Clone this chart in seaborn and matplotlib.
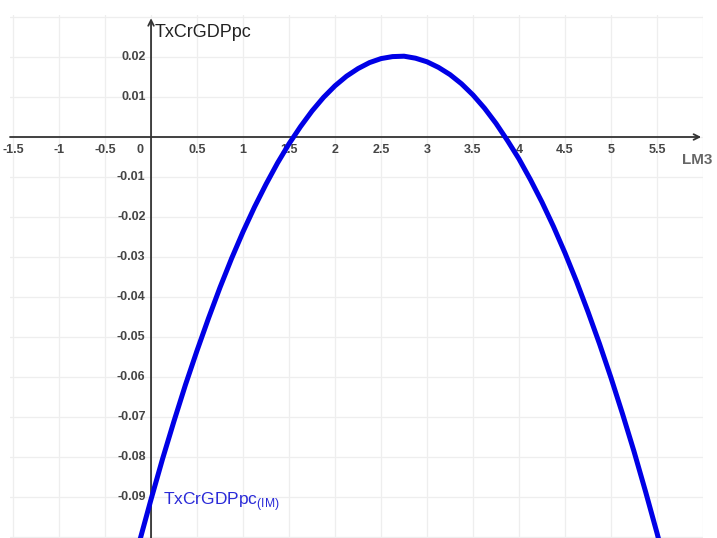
import numpy as np
import pandas as pd
import matplotlib
matplotlib.use("Agg")
import matplotlib.pyplot as plt
import seaborn as sns

# points (LM3 -> TxCrGDPpc)
lm3 = [-0.25, -0.125, 0.0, 0.125, 0.25, 0.375, 0.5, 0.625, 0.75, 0.875,
       1.0, 1.125, 1.25, 1.375, 1.5, 1.625, 1.75, 1.875, 2.0, 2.125,
       2.25, 2.375, 2.5, 2.625, 2.75, 2.875, 3.0, 3.125, 3.25, 3.375,
       3.5, 3.625, 3.75, 3.875, 4.0, 4.125, 4.25, 4.375, 4.5, 4.625,
       4.75, 4.875, 5.0, 5.125, 5.25, 5.375, 5.5, 5.625, 5.75]
txcr = [-0.1121, -0.1011, -0.0906, -0.0805, -0.0710, -0.0619, -0.0534, -0.0453,
        -0.0376, -0.0304, -0.0237, -0.0175, -0.0118, -0.0065, -0.0017, 0.0026,
        0.0065, 0.0099, 0.0128, 0.0152, 0.0171, 0.0186, 0.0196, 0.0201, 0.0202,
        0.0197, 0.0188, 0.0174, 0.0156, 0.0133, 0.0105, 0.0072, 0.0034, -0.0009,
        -0.0055, -0.0107, -0.0163, -0.0224, -0.0290, -0.0361, -0.0437, -0.0517,
        -0.0602, -0.0692, -0.0786, -0.0886, -0.0990, -0.1099, -0.1212]

x_ticks = [-1.5, -1, -0.5, 0.5, 1, 1.5, 2, 2.5, 3, 3.5, 4, 4.5, 5, 5.5]
y_ticks = [0.02, 0.01, -0.01, -0.02, -0.03, -0.04, -0.05, -0.06, -0.07, -0.08, -0.09]

df = pd.DataFrame({"LM3": lm3, "TxCrGDPpc": txcr})

sns.set_style("white")
plt.rcParams['font.family'] = ['Liberation Sans', 'DejaVu Sans']
plt.rcParams['axes.unicode_minus'] = False

fig = plt.figure(figsize=(7.17, 5.38), dpi=100)
ax = fig.add_axes([10 / 717, 0, 693 / 717, 523 / 538])

xmin, xmax = -1.533, 6.0
ymin, ymax = -0.10025, 0.0305
ax.set_xlim(xmin, xmax)
ax.set_ylim(ymin, ymax)

# light grid
for gx in np.arange(-1.5, 6.01, 0.5):
    ax.axvline(gx, color="#eeeeee", lw=0.9, zorder=0)
for gy in np.arange(-0.10, 0.031, 0.01):
    ax.axhline(gy, color="#eeeeee", lw=0.9, zorder=0)

for s in ax.spines.values():
    s.set_visible(False)
ax.set_xticks([])
ax.set_yticks([])

# axes with arrows
ax.annotate("", xy=(xmax - 0.02, 0), xytext=(xmin, 0),
            arrowprops=dict(arrowstyle="->", color="#333333", lw=1.3, shrinkA=0, shrinkB=0))
ax.annotate("", xy=(0, ymax - 0.0008), xytext=(0, ymin),
            arrowprops=dict(arrowstyle="->", color="#333333", lw=1.3, shrinkA=0, shrinkB=0))

sns.lineplot(data=df, x="LM3", y="TxCrGDPpc", ax=ax, color="#0000e6", lw=3.6,
             zorder=5, solid_joinstyle="round", solid_capstyle="round")
ax.set_xlabel("")
ax.set_ylabel("")

def fmt(v):
    return f"{v:g}"

tick_style = dict(fontsize=9, color="#454545", fontweight="bold")
for tx in x_ticks:
    ax.text(tx, -0.0032, fmt(tx), ha="center", va="center", clip_on=False, **tick_style)
ax.text(-0.12, -0.0032, "0", ha="center", va="center", **tick_style)
for ty in y_ticks:
    ax.text(-0.06, ty, fmt(ty), ha="right", va="center", **tick_style)

ax.text(0.04, 0.0262, "TxCrGDPpc", ha="left", va="center", fontsize=13, color="#222222")
ax.text(5.77, -0.0058, "LM3", ha="left", va="center", fontsize=11,
        color="#666666", fontweight="bold", clip_on=False)
ax.text(0.13, -0.0912, r"TxCrGDPpc$_{\mathregular{(IM)}}$", ha="left", va="center",
        fontsize=12.5, color="#2a2ad8")

fig.savefig("out.png", dpi=100, facecolor="white")
